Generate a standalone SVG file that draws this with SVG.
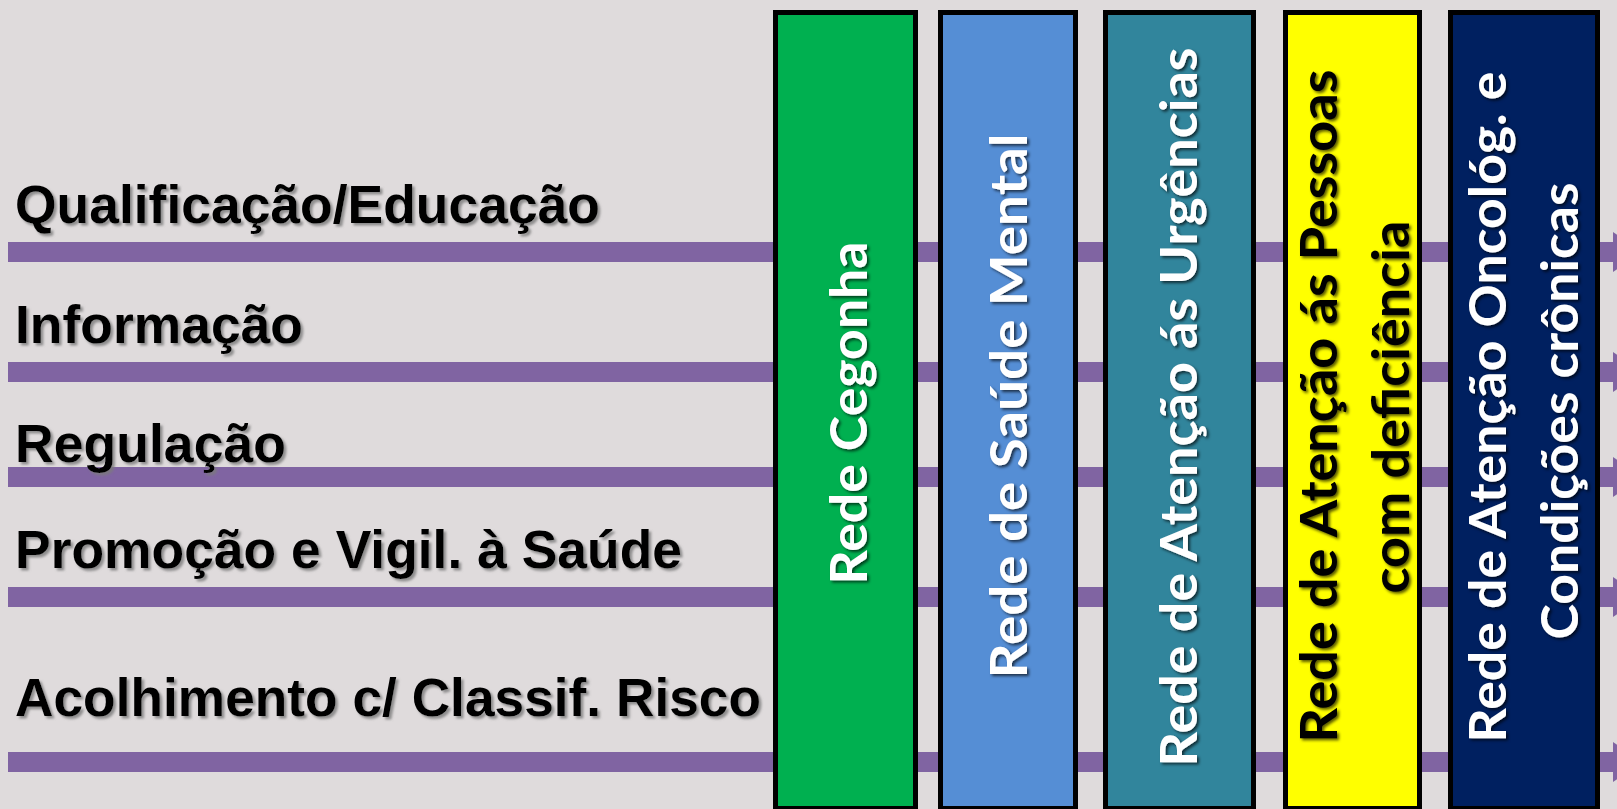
<svg xmlns="http://www.w3.org/2000/svg" width="1617" height="809" viewBox="0 0 1617 809">
<defs>
<style>
.bg{fill:#dfdbdc}
.line{stroke:#8064a2;stroke-width:20;fill:none}
.box{stroke:#000;stroke-width:5}
.lbl{font-family:"Liberation Sans",Arial,sans-serif;font-weight:bold;font-size:53px;fill:#000}
.vt{font-family:Lato,"Open Sans",sans-serif;font-weight:bold;font-size:52px;fill:#fff;text-anchor:middle}
.vtd{fill:#000}
</style>
<marker id="ah" viewBox="0 0 30 40" refX="0" refY="20" markerWidth="30" markerHeight="40" markerUnits="userSpaceOnUse" orient="auto">
<path d="M0,0 L30,20 L0,40 Z" fill="#8064a2"/>
</marker>
<filter id="ls" x="-5%" y="-30%" width="110%" height="160%">
<feDropShadow dx="2.5" dy="2.5" stdDeviation="0.8" flood-color="#7a7a7a" flood-opacity="0.8"/>
</filter>
<filter id="vs" x="-30%" y="-5%" width="160%" height="110%">
<feDropShadow dx="2" dy="2" stdDeviation="1.5" flood-color="#000" flood-opacity="0.65"/>
</filter>
</defs>
<rect class="bg" x="0" y="0" width="1617" height="809"/>

<g id="connectors">
<line class="line" x1="8" y1="252" x2="1613" y2="252" marker-end="url(#ah)"/>
<line class="line" x1="8" y1="372" x2="1613" y2="372" marker-end="url(#ah)"/>
<line class="line" x1="8" y1="477" x2="1613" y2="477" marker-end="url(#ah)"/>
<line class="line" x1="8" y1="597" x2="1613" y2="597" marker-end="url(#ah)"/>
<line class="line" x1="8" y1="762" x2="1613" y2="762" marker-end="url(#ah)"/>
</g>

<g id="labels" filter="url(#ls)">
<text class="lbl" x="15" y="223" textLength="585" lengthAdjust="spacingAndGlyphs">Qualificação/Educação</text>
<text class="lbl" x="15" y="343" textLength="288" lengthAdjust="spacingAndGlyphs">Informação</text>
<text class="lbl" x="15" y="462" textLength="271" lengthAdjust="spacingAndGlyphs">Regulação</text>
<text class="lbl" x="15" y="568" textLength="667" lengthAdjust="spacingAndGlyphs">Promoção e Vigil. à Saúde</text>
<text class="lbl" x="15" y="716" textLength="746" lengthAdjust="spacingAndGlyphs">Acolhimento c/ Classif. Risco</text>
</g>

<g id="rede-cegonha">
<rect class="box" x="775.5" y="12.5" width="140" height="796" fill="#00b050"/>
<g filter="url(#vs)"><text class="vt" transform="translate(867,413) rotate(-90)" textLength="343" lengthAdjust="spacingAndGlyphs">Rede Cegonha</text></g>
</g>

<g id="rede-saude-mental">
<rect class="box" x="940.5" y="12.5" width="135" height="796" fill="#558ed5"/>
<g filter="url(#vs)"><text class="vt" transform="translate(1027,406) rotate(-90)" textLength="545" lengthAdjust="spacingAndGlyphs">Rede de Saúde Mental</text></g>
</g>

<g id="rede-urgencias">
<rect class="box" x="1105.5" y="12.5" width="148" height="796" fill="#31859c"/>
<g filter="url(#vs)"><text class="vt" transform="translate(1197,407) rotate(-90)" textLength="719" lengthAdjust="spacingAndGlyphs">Rede de Atenção ás Urgências</text></g>
</g>

<g id="rede-pessoas-deficiencia">
<rect class="box" x="1285.5" y="12.5" width="134" height="796" fill="#ffff00"/>
<g filter="url(#vs)">
<text class="vt vtd" transform="translate(1337,406) rotate(-90)" textLength="673" lengthAdjust="spacingAndGlyphs">Rede de Atenção ás Pessoas</text>
<text class="vt vtd" transform="translate(1409,407) rotate(-90)" textLength="373" lengthAdjust="spacingAndGlyphs">com deficiência</text>
</g>
</g>

<g id="rede-oncologica">
<rect class="box" x="1450.5" y="12.5" width="147" height="796" fill="#002060"/>
<g filter="url(#vs)">
<text class="vt" transform="translate(1506,407) rotate(-90)" textLength="671" lengthAdjust="spacingAndGlyphs">Rede de Atenção Oncológ. e</text>
<text class="vt" transform="translate(1578,411) rotate(-90)" textLength="457" lengthAdjust="spacingAndGlyphs">Condições crônicas</text>
</g>
</g>
</svg>
